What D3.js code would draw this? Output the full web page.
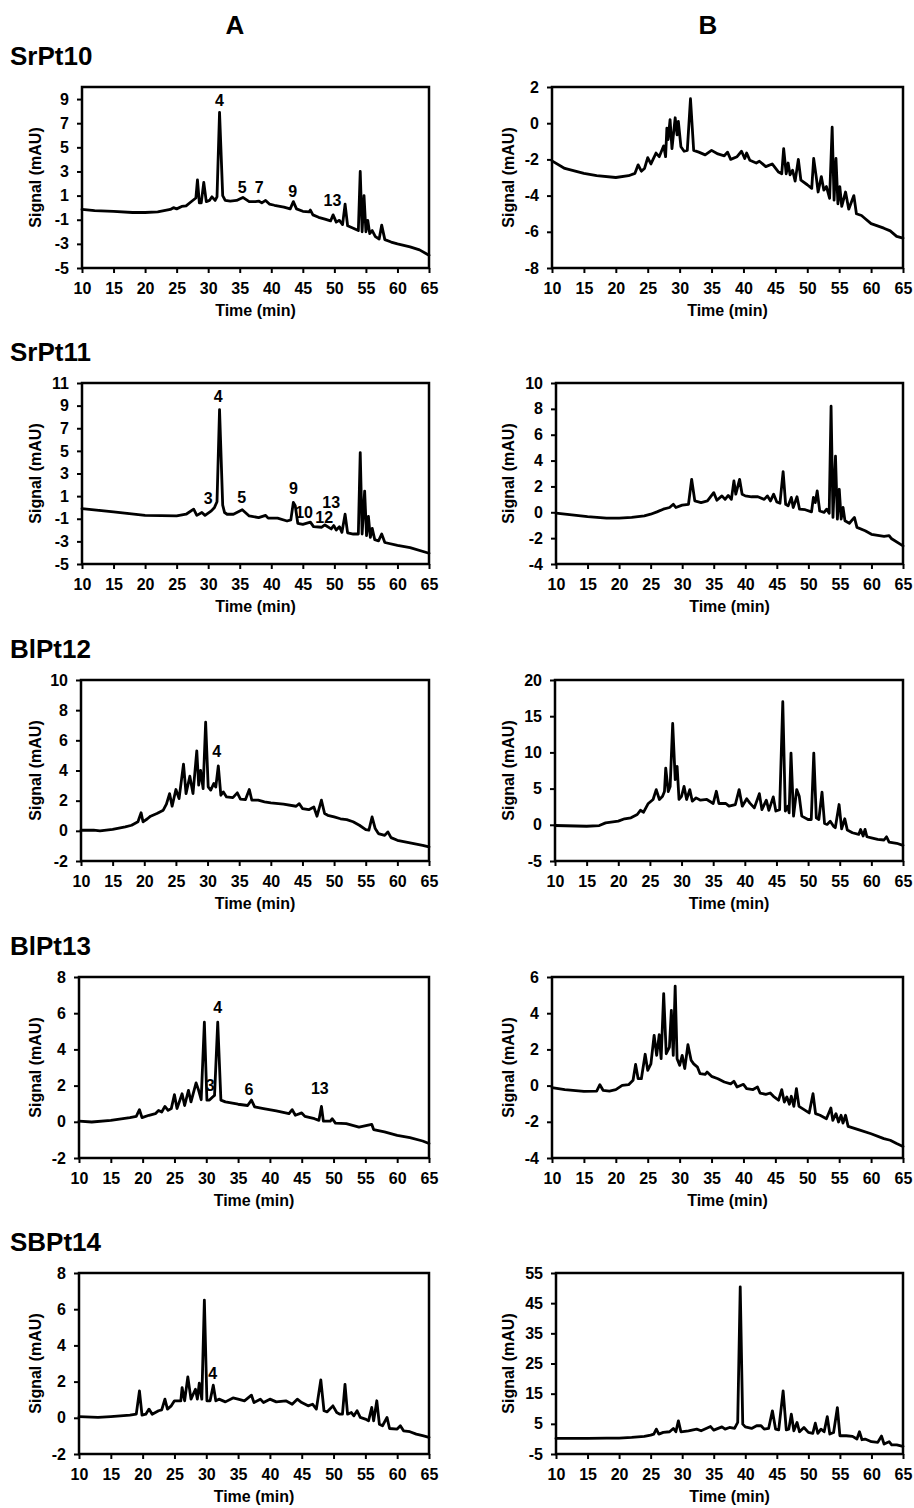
<!DOCTYPE html>
<html>
<head>
<meta charset="utf-8">
<script src="https://cdn.jsdelivr.net/npm/d3@7"></script>
<style>
  html, body { margin: 0; padding: 0; background: #fff; }
  svg { display: block; }
</style>
</head>
<body>
<script>
// ---------------- DATA ----------------
const xTicks = [10, 15, 20, 25, 30, 35, 40, 45, 50, 55, 60, 65];
const xDomain = [10, 65];
const columnLabels = ["A", "B"];
const rowLabels = ["SrPt10", "SrPt11", "BlPt12", "BlPt13", "SBPt14"];
const xTitle = "Time (min)";
const yTitle = "Signal (mAU)";

const yTicks_SrPt10A = [-5, -3, -1, 1, 3, 5, 7, 9];
const yTicks_SrPt10B = [-8, -6, -4, -2, 0, 2];
const yTicks_SrPt11A = [-5, -3, -1, 1, 3, 5, 7, 9, 11];
const yTicks_SrPt11B = [-4, -2, 0, 2, 4, 6, 8, 10];
const yTicks_BlPt12A = [-2, 0, 2, 4, 6, 8, 10];
const yTicks_BlPt12B = [-5, 0, 5, 10, 15, 20];
const yTicks_BlPt13A = [-2, 0, 2, 4, 6, 8];
const yTicks_BlPt13B = [-4, -2, 0, 2, 4, 6];
const yTicks_SBPt14A = [-2, 0, 2, 4, 6, 8];
const yTicks_SBPt14B = [-5, 5, 15, 25, 35, 45, 55];

const yDomain_SrPt10A = [-5, 10];
const yDomain_SrPt10B = [-8, 2];
const yDomain_SrPt11A = [-5, 11];
const yDomain_SrPt11B = [-4, 10];
const yDomain_BlPt12A = [-2, 10];
const yDomain_BlPt12B = [-5, 20];
const yDomain_BlPt13A = [-2, 8];
const yDomain_BlPt13B = [-4, 6];
const yDomain_SBPt14A = [-2, 8];
const yDomain_SBPt14B = [-5, 55];

// [time (min), signal (mAU)]
const SrPt10A = [[10,-0.15],[12,-0.25],[15,-0.3],[18,-0.4],[20,-0.4],[22,-0.35],[23,-0.25],[24,-0.15],[24.5,0.0],[25,-0.1],[25.8,0.1],[26.5,0.15],[27.2,0.45],[27.8,0.7],[28.05,0.8],[28.3,2.3],[28.6,0.4],[28.9,0.4],[29.3,2.1],[29.7,0.5],[30.2,0.6],[30.6,0.9],[31.1,0.6],[31.4,0.9],[31.8,7.9],[32.3,1.0],[32.7,0.6],[33.5,0.55],[34.5,0.6],[35.5,0.85],[36.5,0.5],[37.5,0.5],[38,0.55],[38.5,0.4],[39.1,0.6],[39.7,0.3],[40.5,0.2],[42,0.05],[43,-0.1],[43.5,0.5],[44,-0.1],[45,-0.3],[46,-0.35],[46.2,-0.2],[46.6,-0.6],[47.5,-0.8],[48.5,-0.95],[49.4,-1.1],[49.8,-0.6],[50.3,-1.2],[50.8,-1.05],[51.3,-1.4],[51.7,0.3],[52.1,-1.5],[53,-1.7],[53.8,-1.9],[54.1,3.0],[54.4,-2.0],[54.7,1.0],[55.0,-2.0],[55.3,-1.05],[55.6,-2.15],[56,-1.9],[56.5,-2.4],[57.1,-2.6],[57.5,-1.45],[58,-2.65],[59,-2.85],[60,-3.0],[62,-3.25],[63.5,-3.5],[65,-3.95]];

const SrPt10B = [[10,-2.08],[12,-2.5],[15,-2.77],[17,-2.9],[20,-3.0],[22,-2.9],[23,-2.77],[23.5,-2.3],[24,-2.65],[24.5,-2.5],[25,-1.9],[25.5,-2.25],[26.3,-1.65],[26.8,-1.85],[27.5,-1.25],[27.8,-1.85],[28,-0.27],[28.2,-0.9],[28.5,0.2],[28.8,-1.4],[29.3,0.3],[29.6,-0.65],[29.8,0.1],[30.2,-1.3],[30.7,-1.55],[31.2,-1.5],[31.7,1.35],[32.2,-1.5],[33,-1.6],[34,-1.75],[35,-1.5],[36,-1.7],[37,-1.8],[37.5,-1.6],[38,-2.0],[39,-1.85],[39.7,-1.55],[40.2,-1.95],[40.5,-1.65],[41,-2.05],[42,-2.2],[42.5,-2.1],[43.5,-2.4],[44.5,-2.25],[45.5,-2.7],[46,-2.8],[46.3,-1.4],[46.7,-2.8],[47,-2.2],[47.3,-2.85],[47.7,-2.6],[48.1,-3.2],[48.6,-2.0],[49,-3.15],[50,-3.4],[50.7,-3.6],[51.0,-1.95],[51.4,-2.95],[51.7,-3.8],[52.2,-2.95],[52.6,-3.7],[53,-3.5],[53.5,-4.15],[53.9,-0.22],[54.2,-4.25],[54.5,-1.95],[54.8,-4.45],[55.1,-3.5],[55.4,-4.6],[56,-3.8],[56.5,-4.75],[57.3,-4.0],[57.7,-5.0],[58.5,-5.1],[59,-5.25],[60,-5.55],[62,-5.8],[63,-5.95],[64,-6.25],[65,-6.35]];

const SrPt11A = [[10,-0.1],[15,-0.4],[20,-0.7],[25,-0.75],[26.5,-0.6],[27.7,-0.15],[28.2,-0.7],[29,-0.45],[29.5,-0.7],[30.5,-0.3],[31,0.0],[31.4,0.5],[31.8,8.65],[32.3,0.2],[32.6,-0.45],[33,-0.6],[34,-0.6],[35.4,-0.2],[36.5,-0.75],[38,-0.9],[39.1,-0.7],[39.5,-0.95],[41,-0.95],[42.5,-1.2],[43.1,-1.1],[43.5,0.45],[43.8,0.15],[44.2,-1.4],[45,-1.5],[46.2,-1.3],[46.7,-1.7],[48,-1.75],[48.5,-1.55],[49.5,-1.9],[49.9,-1.6],[50.3,-2.0],[50.8,-1.7],[51.2,-2.2],[51.7,-0.6],[52.1,-2.25],[53,-2.35],[53.8,-2.35],[54.1,4.85],[54.4,-2.35],[54.8,1.45],[55.1,-2.5],[55.4,-0.8],[55.7,-2.65],[56,-1.85],[56.4,-2.85],[57,-2.95],[57.5,-2.35],[58,-3.1],[60,-3.35],[62,-3.55],[65,-4.05]];

const SrPt11B = [[10,-0.07],[15,-0.33],[18,-0.45],[20,-0.45],[22,-0.4],[24,-0.27],[25,-0.15],[26,0.03],[27,0.24],[28,0.37],[28.6,0.62],[29,0.37],[30,0.55],[31,0.62],[31.5,2.55],[32,0.88],[33,0.75],[34,0.88],[35,1.52],[35.5,0.93],[36.3,1.27],[36.8,1.0],[37.3,1.3],[37.8,1.0],[38.2,2.42],[38.5,1.4],[39.1,2.55],[39.5,1.4],[40,1.27],[41,1.2],[42,1.2],[43,1.0],[43.5,1.27],[44,0.88],[44.5,1.4],[45,0.8],[45.5,0.7],[46,3.15],[46.4,0.62],[46.8,0.5],[47.3,1.15],[47.6,0.37],[48.2,1.2],[48.6,0.24],[49.5,0.2],[50.5,0.03],[50.8,1.15],[51.1,0.75],[51.4,1.65],[51.8,0.1],[52.5,0.0],[52.9,0.24],[53.3,-0.07],[53.6,8.2],[53.9,-0.4],[54.3,4.35],[54.6,-0.53],[54.9,1.78],[55.2,-0.53],[55.5,0.37],[55.8,-0.65],[56.5,-0.85],[57.3,-0.4],[57.7,-1.17],[59,-1.43],[60,-1.7],[62,-1.87],[62.8,-1.8],[63.2,-2.05],[65,-2.6]];

const BlPt12A = [[10,0.04],[12,0.04],[13,0.0],[15,0.1],[17,0.26],[18,0.37],[19,0.6],[19.5,1.2],[19.8,0.6],[20.5,0.8],[21,0.97],[22,1.15],[23,1.37],[23.5,1.77],[24,2.47],[24.4,1.63],[25,2.74],[25.5,2.14],[26.2,4.42],[26.6,2.47],[27.2,3.62],[27.7,2.47],[28.3,5.3],[28.6,3.03],[28.9,4.0],[29.3,2.8],[29.7,7.2],[30.1,2.92],[30.5,2.7],[31,3.14],[31.3,2.9],[31.7,4.3],[32.1,2.36],[32.5,2.58],[33,2.25],[34,2.2],[34.7,2.52],[35.2,2.1],[36,2.07],[36.6,2.74],[37,2.03],[38,2.03],[39,1.92],[40,1.85],[42,1.77],[44,1.63],[44.5,1.8],[45,1.48],[46,1.4],[46.8,1.58],[47.3,0.97],[48,2.03],[48.5,1.15],[49,1.03],[50,0.92],[51,0.8],[52,0.74],[53,0.6],[54,0.37],[55,0.08],[55.5,0.04],[56,0.92],[56.5,0.15],[57,-0.18],[58,-0.3],[58.5,-0.07],[59,-0.45],[60,-0.63],[62,-0.8],[64,-0.96],[65,-1.07]];

const BlPt12B = [[10,-0.1],[15,-0.2],[17,-0.1],[18,0.27],[20,0.5],[21,0.83],[22,0.96],[23,1.42],[23.5,2.0],[24,1.74],[24.7,2.9],[25.5,3.5],[26,4.86],[26.5,3.5],[27,3.94],[27.3,4.6],[27.5,7.84],[27.9,4.6],[28.2,5.3],[28.6,14.0],[29,6.24],[29.3,8.07],[29.6,3.5],[30,3.94],[30.4,5.3],[30.8,3.5],[31.3,4.86],[31.7,3.26],[32.3,3.72],[33,3.4],[34,3.5],[35,2.94],[35.5,4.63],[35.9,2.94],[37,2.94],[37.5,2.57],[38.5,2.8],[39.1,4.86],[39.6,2.57],[40.3,3.6],[40.8,3.0],[41.5,2.34],[42.3,4.3],[42.7,2.1],[43.4,3.4],[43.8,2.0],[44.5,3.85],[44.9,1.9],[45.5,2.1],[46,17.0],[46.4,1.9],[46.8,2.57],[47.0,1.65],[47.3,9.9],[47.7,1.2],[48.2,4.86],[48.6,3.94],[49,1.2],[50,0.73],[50.5,0.73],[50.9,9.9],[51.3,0.96],[51.7,0.73],[52.2,4.5],[52.6,0.18],[53,0.05],[53.5,0.5],[54,-0.18],[54.3,-0.4],[54.9,2.8],[55.3,-0.55],[55.8,0.83],[56.2,-0.73],[57,-1.1],[58,-1.33],[58.3,-0.64],[58.7,-1.55],[59,-0.64],[59.3,-1.65],[60,-1.8],[61,-2.0],[62,-2.1],[62.4,-1.65],[62.8,-2.4],[64,-2.55],[65,-2.84]];

const BlPt13A = [[10,0.04],[12,-0.01],[15,0.08],[18,0.23],[19,0.3],[19.5,0.67],[19.9,0.23],[21,0.36],[22,0.45],[22.5,0.63],[23,0.54],[23.5,0.85],[24,0.63],[24.5,0.73],[25,1.5],[25.4,0.73],[26.2,1.55],[26.6,0.9],[27.2,1.74],[27.6,1.1],[28.4,2.15],[28.8,1.74],[29.2,1.22],[29.7,5.5],[30.1,1.2],[30.5,1.2],[31,1.37],[31.3,1.46],[31.8,5.5],[32.3,1.2],[33,1.1],[35,0.97],[36.5,0.9],[37.1,1.2],[37.6,0.82],[39,0.73],[41,0.6],[43,0.45],[43.5,0.67],[44,0.36],[45,0.49],[45.5,0.3],[47,0.17],[47.7,0.08],[48.1,0.85],[48.4,0.04],[49.5,0.04],[49.8,0.17],[50.3,-0.07],[52,-0.1],[54,-0.29],[56,-0.14],[56.3,-0.43],[58,-0.56],[60,-0.75],[62,-0.88],[64,-1.06],[65,-1.2]];

const BlPt13B = [[10,-0.11],[12,-0.22],[15,-0.32],[17,-0.3],[17.5,0.05],[18,-0.26],[19,-0.3],[20,-0.22],[21,0.01],[22,0.05],[22.7,0.3],[23.1,1.17],[23.5,0.38],[24,0.38],[24.6,1.73],[25,0.84],[25.5,1.2],[26,2.78],[26.4,1.67],[26.8,2.82],[27.1,1.49],[27.5,5.08],[27.9,1.76],[28.4,2.13],[28.7,4.16],[29.0,1.67],[29.3,5.5],[29.6,1.49],[30,1.12],[30.4,1.67],[30.8,0.94],[31.3,2.26],[31.8,1.4],[32.2,1.2],[32.8,1.02],[33.2,0.66],[34,0.62],[34.3,0.75],[35,0.51],[36,0.38],[37,0.2],[38,0.1],[38.5,0.24],[39,-0.08],[40,0.07],[40.5,-0.17],[41.5,-0.22],[42.2,-0.08],[42.6,-0.41],[43.5,-0.48],[44.2,-0.41],[44.7,-0.59],[45.5,-0.81],[46,-0.22],[46.4,-0.91],[46.8,-0.63],[47.2,-1.03],[47.5,-0.59],[47.9,-1.15],[48.3,-0.17],[48.7,-1.15],[49.5,-1.33],[50.3,-1.51],[50.9,-0.45],[51.3,-1.55],[52,-1.64],[53,-1.83],[53.7,-1.24],[54,-1.92],[54.5,-1.55],[54.9,-2.01],[55.3,-1.64],[55.6,-2.07],[56,-1.64],[56.4,-2.25],[58,-2.43],[60,-2.66],[62,-2.93],[63,-3.02],[64,-3.2],[65,-3.36]];

const SBPt14A = [[10,0.07],[13,0.02],[15,0.07],[18,0.15],[19,0.2],[19.5,1.49],[19.9,0.15],[20.5,0.2],[21,0.48],[21.5,0.2],[22.5,0.39],[23,0.44],[23.5,1.03],[23.9,0.48],[24.5,0.66],[25,0.94],[26,0.94],[26.2,1.67],[26.6,0.94],[27.1,2.26],[27.6,1.03],[28.3,1.58],[28.6,1.03],[28.9,1.91],[29.3,1.03],[29.7,6.5],[30.1,0.94],[30.6,0.94],[31.1,1.8],[31.5,0.94],[32,1.03],[33,0.88],[34.2,1.1],[35,1.03],[36,0.94],[37.1,1.25],[37.5,0.84],[38.5,1.03],[39,0.84],[40,1.03],[41,0.88],[42.5,0.94],[43.5,0.75],[44.3,1.03],[45,0.84],[46,0.66],[46.7,0.75],[47.3,0.48],[48,2.09],[48.5,0.39],[49,0.33],[49.9,0.66],[50.5,0.29],[51,0.2],[51.4,0.2],[51.8,1.85],[52.2,0.2],[52.8,0.29],[53.2,0.11],[53.7,0.39],[54.2,0.02],[55,-0.07],[55.5,-0.17],[56,0.57],[56.3,-0.17],[56.8,0.94],[57.2,-0.35],[57.7,-0.44],[58.4,0.02],[58.8,-0.59],[60,-0.62],[60.5,-0.44],[61,-0.72],[62,-0.77],[63,-0.9],[64,-0.99],[65,-1.08]];

const SBPt14B = [[10,0.17],[15,0.17],[18,0.28],[20,0.28],[22,0.5],[24,0.83],[25,1.27],[25.5,1.6],[25.9,3.25],[26.3,1.6],[27,2.15],[28,2.37],[28.6,3.47],[29,2.37],[29.4,6.0],[29.8,2.37],[31,2.7],[32.3,3.25],[33,2.7],[34.5,4.1],[35,2.9],[36.3,4.0],[36.8,3.25],[37.5,3.8],[38.3,3.47],[38.8,5.46],[39.2,50.4],[39.6,4.9],[40,4.0],[41,3.47],[41.8,4.36],[42.5,4.36],[43,3.25],[43.7,3.47],[44.3,9.3],[44.8,3.25],[45.3,3.0],[46,15.9],[46.5,3.0],[46.9,3.25],[47.3,8.2],[47.7,2.7],[48.2,5.46],[48.6,2.37],[49.3,3.8],[50,2.15],[50.7,1.82],[51.1,5.2],[51.5,1.82],[52,3.25],[52.5,2.37],[53,7.4],[53.4,1.6],[54,2.15],[54.6,10.4],[55,1.05],[56,1.05],[57,0.83],[57.7,-0.05],[58.1,2.37],[58.5,-0.27],[59,-0.05],[60,-0.93],[61,-1.15],[61.6,0.94],[62,-1.7],[62.8,-0.93],[63.2,-2.0],[64,-2.0],[65,-2.5]];

// peak annotations: [time, signal, label]
const peaks_SrPt10A = [[31.8,8.9,"4"],[35.4,1.65,"5"],[38.1,1.7,"7"],[43.4,1.35,"9"],[49.7,0.6,"13"]];
const peaks_SrPt11A = [[31.6,9.8,"4"],[30.0,0.8,"3"],[35.3,0.9,"5"],[43.5,1.65,"9"],[45.2,-0.45,"10"],[48.4,-0.9,"12"],[49.5,0.45,"13"]];
const peaks_BlPt12A = [[31.45,5.24,"4"]];
const peaks_BlPt13A = [[31.8,6.34,"4"],[30.6,2.0,"3"],[36.7,1.78,"6"],[47.85,1.83,"13"]];
const peaks_SBPt14A = [[31.0,2.46,"4"]];

// ---------------- LAYOUT ----------------
const W = 914, Hpage = 1508;
const rowTops = [87, 383, 680, 977, 1273];
const plotH = 181;
const colA = { lefts: [82, 82, 81, 79, 79], right: 429, titleX: 35, labelX: 235 };
const colB = { lefts: [552, 556, 555, 552, 556], right: 903, titleX: 508, labelX: 708 };
const FONT = '"Liberation Sans", Arial, Helvetica, sans-serif';

const panels = [
  { row: 0, col: 0, data: SrPt10A, yDomain: yDomain_SrPt10A, yTicks: yTicks_SrPt10A, peaks: peaks_SrPt10A },
  { row: 0, col: 1, data: SrPt10B, yDomain: yDomain_SrPt10B, yTicks: yTicks_SrPt10B, peaks: [] },
  { row: 1, col: 0, data: SrPt11A, yDomain: yDomain_SrPt11A, yTicks: yTicks_SrPt11A, peaks: peaks_SrPt11A },
  { row: 1, col: 1, data: SrPt11B, yDomain: yDomain_SrPt11B, yTicks: yTicks_SrPt11B, peaks: [] },
  { row: 2, col: 0, data: BlPt12A, yDomain: yDomain_BlPt12A, yTicks: yTicks_BlPt12A, peaks: peaks_BlPt12A },
  { row: 2, col: 1, data: BlPt12B, yDomain: yDomain_BlPt12B, yTicks: yTicks_BlPt12B, peaks: [] },
  { row: 3, col: 0, data: BlPt13A, yDomain: yDomain_BlPt13A, yTicks: yTicks_BlPt13A, peaks: peaks_BlPt13A },
  { row: 3, col: 1, data: BlPt13B, yDomain: yDomain_BlPt13B, yTicks: yTicks_BlPt13B, peaks: [] },
  { row: 4, col: 0, data: SBPt14A, yDomain: yDomain_SBPt14A, yTicks: yTicks_SBPt14A, peaks: peaks_SBPt14A },
  { row: 4, col: 1, data: SBPt14B, yDomain: yDomain_SBPt14B, yTicks: yTicks_SBPt14B, peaks: [] }
];

const svg = d3.select("body").append("svg")
  .attr("width", W).attr("height", Hpage)
  .attr("viewBox", `0 0 ${W} ${Hpage}`)
  .style("font-family", FONT);

svg.append("rect").attr("width", W).attr("height", Hpage).attr("fill", "#fff");

// column labels
[colA, colB].forEach((c, i) => {
  svg.append("text").attr("x", c.labelX).attr("y", 34)
    .attr("text-anchor", "middle").attr("font-size", 26).attr("font-weight", "bold")
    .attr("fill", "#000").text(columnLabels[i]);
});

// row labels
rowLabels.forEach((lab, r) => {
  svg.append("text").attr("x", 10).attr("y", rowTops[r] - 22)
    .attr("font-size", 26).attr("font-weight", "bold").attr("fill", "#000").text(lab);
});

panels.forEach(p => {
  const c = p.col === 0 ? colA : colB;
  const left = c.lefts[p.row], right = c.right;
  const top = rowTops[p.row], bottom = top + plotH;

  const x = d3.scaleLinear().domain(xDomain).range([left, right]);
  const y = d3.scaleLinear().domain(p.yDomain).range([bottom, top]);
  const g = svg.append("g");

  // trace
  g.append("path").datum(p.data)
    .attr("d", d3.line().x(d => x(d[0])).y(d => y(d[1])))
    .attr("fill", "none").attr("stroke", "#000")
    .attr("stroke-width", 2.8).attr("stroke-linejoin", "round").attr("stroke-linecap", "round");

  // plot frame
  g.append("rect").attr("x", left).attr("y", top)
    .attr("width", right - left).attr("height", plotH)
    .attr("fill", "none").attr("stroke", "#000").attr("stroke-width", 2.5);

  // x axis
  const xa = g.append("g").attr("transform", `translate(0,${bottom})`)
    .call(d3.axisBottom(x).tickValues(xTicks).tickSize(5).tickSizeOuter(0).tickPadding(10).tickFormat(d3.format("d")));
  xa.select(".domain").remove();
  xa.selectAll("line").attr("stroke", "#000").attr("stroke-width", 2);
  xa.selectAll("text").attr("font-size", 16).attr("font-weight", "bold")
    .attr("font-family", FONT).attr("fill", "#000");

  // y axis
  const ya = g.append("g").attr("transform", `translate(${left},0)`)
    .call(d3.axisLeft(y).tickValues(p.yTicks).tickSize(5).tickSizeOuter(0).tickPadding(8).tickFormat(d3.format("d")));
  ya.select(".domain").remove();
  ya.selectAll("line").attr("stroke", "#000").attr("stroke-width", 2);
  ya.selectAll("text").attr("font-size", 16).attr("font-weight", "bold")
    .attr("font-family", FONT).attr("fill", "#000").text(d => d3.format("d")(d).replace("−", "-"));

  // axis titles
  g.append("text").attr("x", (left + right) / 2).attr("y", bottom + 48)
    .attr("text-anchor", "middle").attr("font-size", 16).attr("font-weight", "bold")
    .attr("fill", "#000").text(xTitle);
  g.append("text")
    .attr("transform", `translate(${c.titleX},${(top + bottom) / 2}) rotate(-90)`)
    .attr("dy", "0.35em").attr("text-anchor", "middle")
    .attr("font-size", 16).attr("font-weight", "bold").attr("fill", "#000").text(yTitle);

  // peak labels
  p.peaks.forEach(pk => {
    g.append("text").attr("x", x(pk[0])).attr("y", y(pk[1]))
      .attr("dy", "0.35em").attr("text-anchor", "middle")
      .attr("font-size", 16).attr("font-weight", "bold").attr("fill", "#000").text(pk[2]);
  });
});
</script>
</body>
</html>
